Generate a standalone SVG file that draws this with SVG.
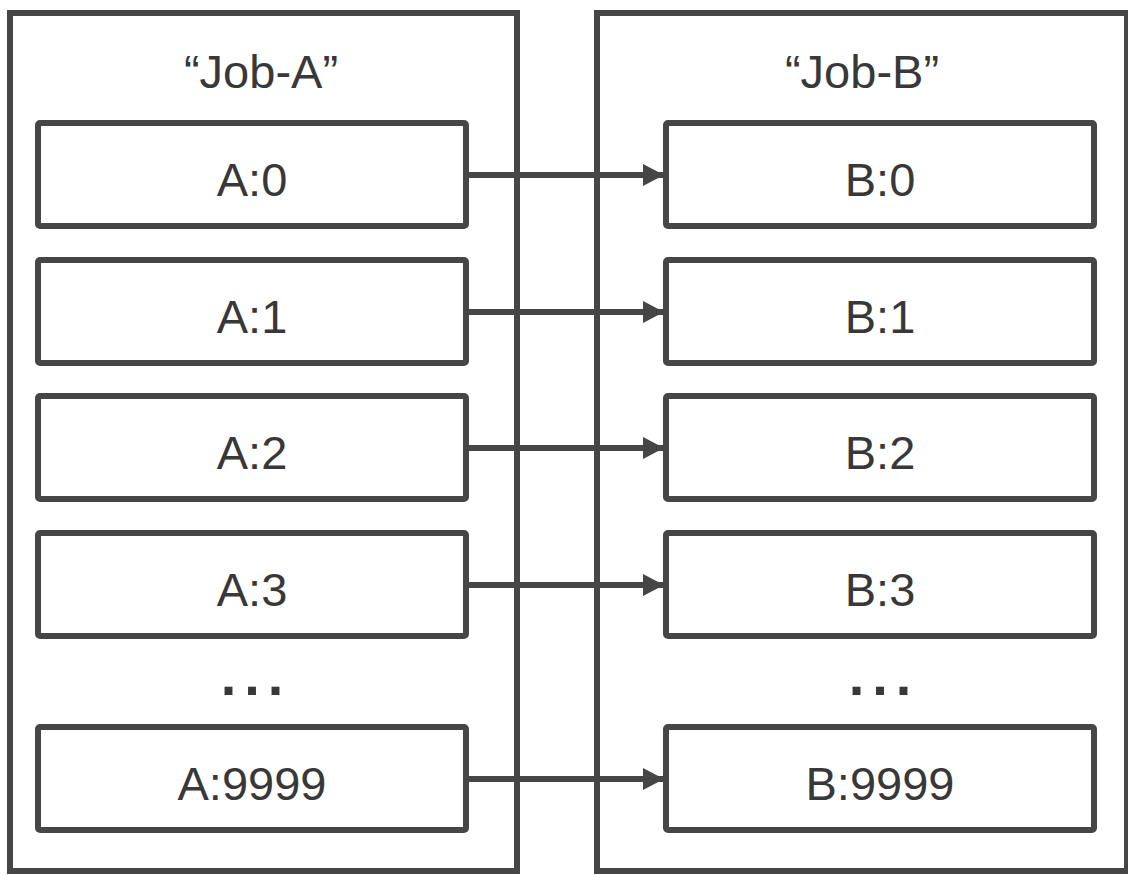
<svg xmlns="http://www.w3.org/2000/svg" width="1128" height="875" viewBox="0 0 1128 875">
<defs>
<style>
.box{fill:#fff;stroke:#464646;stroke-width:6;stroke-linejoin:round}
.outer{fill:none;stroke:#464646;stroke-width:6}
.lbl{font-family:"Liberation Sans",Arial,sans-serif;font-size:47px;fill:#383838;text-anchor:middle}
.dots{font-family:"Liberation Sans",Arial,sans-serif;font-size:56px;font-weight:bold;fill:#383838;text-anchor:middle;letter-spacing:8px}
.conn{stroke:#464646;stroke-width:6;fill:none}
</style>
<marker id="ah" viewBox="0 0 21 22" refX="21" refY="11" markerWidth="21" markerHeight="22" markerUnits="userSpaceOnUse" orient="auto">
<path d="M0,0 L21,11 L0,22 z" fill="#464646"/>
</marker>
</defs>
<rect width="1128" height="875" fill="#fff"/>
<g id="job-a">
<rect class="outer" x="10" y="13" width="507" height="858"/>
<text class="lbl" x="261" y="88">“Job-A”</text>
</g>
<g id="job-b">
<rect class="outer" x="597" y="13" width="530" height="858"/>
<text class="lbl" x="862" y="88">“Job-B”</text>
</g>
<g id="connectors">
<line class="conn" x1="466" y1="175" x2="664" y2="175" marker-end="url(#ah)"/>
<line class="conn" x1="466" y1="312" x2="664" y2="312" marker-end="url(#ah)"/>
<line class="conn" x1="466" y1="448" x2="664" y2="448" marker-end="url(#ah)"/>
<line class="conn" x1="466" y1="585" x2="664" y2="585" marker-end="url(#ah)"/>
<line class="conn" x1="466" y1="779" x2="664" y2="779" marker-end="url(#ah)"/>
</g>
<g id="a0"><rect class="box" x="38" y="123" width="428" height="103" rx="2"/><text class="lbl" x="252" y="196">A:0</text></g>
<g id="a1"><rect class="box" x="38" y="260" width="428" height="103" rx="2"/><text class="lbl" x="252" y="333">A:1</text></g>
<g id="a2"><rect class="box" x="38" y="396" width="428" height="103" rx="2"/><text class="lbl" x="252" y="469">A:2</text></g>
<g id="a3"><rect class="box" x="38" y="533" width="428" height="103" rx="2"/><text class="lbl" x="252" y="606">A:3</text></g>
<g id="a-dots"><text class="dots" x="256" y="695">...</text></g>
<g id="a9999"><rect class="box" x="38" y="727" width="428" height="103" rx="2"/><text class="lbl" x="252" y="800">A:9999</text></g>
<g id="b0"><rect class="box" x="666" y="123" width="428" height="103" rx="2"/><text class="lbl" x="880" y="196">B:0</text></g>
<g id="b1"><rect class="box" x="666" y="260" width="428" height="103" rx="2"/><text class="lbl" x="880" y="333">B:1</text></g>
<g id="b2"><rect class="box" x="666" y="396" width="428" height="103" rx="2"/><text class="lbl" x="880" y="469">B:2</text></g>
<g id="b3"><rect class="box" x="666" y="533" width="428" height="103" rx="2"/><text class="lbl" x="880" y="606">B:3</text></g>
<g id="b-dots"><text class="dots" x="884" y="695">...</text></g>
<g id="b9999"><rect class="box" x="666" y="727" width="428" height="103" rx="2"/><text class="lbl" x="880" y="800">B:9999</text></g>
</svg>
